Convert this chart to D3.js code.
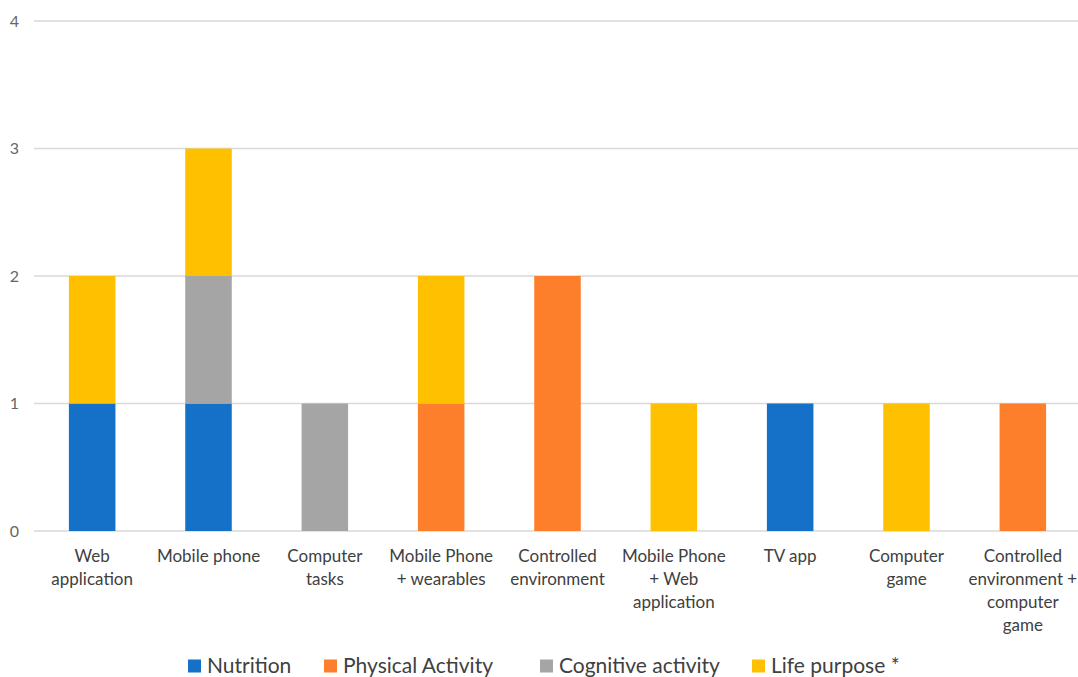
<!DOCTYPE html>
<html>
<head>
<meta charset="utf-8">
<script src="https://cdn.jsdelivr.net/npm/d3@7"></script>
<style>
  body { margin: 0; background: #fff; }
  svg { display: block; font-family: Lato, "Open Sans", sans-serif; }
</style>
</head>
<body>
<svg id="chart" width="1078" height="677"></svg>
<script>
const categories = [
    ["Web", "application"],
    ["Mobile phone"],
    ["Computer", "tasks"],
    ["Mobile Phone", "+ wearables"],
    ["Controlled", "environment"],
    ["Mobile Phone", "+ Web", "application"],
    ["TV app"],
    ["Computer", "game"],
    ["Controlled", "environment +", "computer", "game"]
];
const seriesNames = ["Nutrition", "Physical Activity", "Cognitive activity", "Life purpose *"];
const seriesColors = ["#1570C8", "#FE7F2B", "#A5A5A5", "#FFC000"];
const nutrition = [1, 1, 0, 0, 0, 0, 1, 0, 0];
const physical  = [0, 0, 0, 1, 2, 0, 0, 0, 1];
const cognitive = [0, 1, 1, 0, 0, 0, 0, 0, 0];
const lifePurpose = [1, 1, 0, 1, 0, 1, 0, 1, 0];
const yTicks = [0, 1, 2, 3, 4];

const keys = ["n", "p", "c", "l"];
const rows = categories.map((c, i) => ({
    idx: i, n: nutrition[i], p: physical[i], c: cognitive[i], l: lifePurpose[i]
}));

const svg = d3.select("#chart");
const x = d3.scaleBand().domain(d3.range(categories.length)).range([34, 1081]).paddingInner(0.6).paddingOuter(0.3);
const y = d3.scaleLinear().domain([0, 4]).range([531, 21]);
const color = d3.scaleOrdinal().domain(keys).range(seriesColors);

// gridlines
svg.append("g").selectAll("line").data(yTicks).join("line")
    .attr("x1", 34).attr("x2", 1078)
    .attr("y1", d => y(d)).attr("y2", d => y(d))
    .attr("stroke", "#d9d9d9").attr("stroke-width", 1.3);

// y tick labels
svg.append("g").selectAll("text").data(yTicks).join("text")
    .attr("x", 19).attr("y", d => y(d)).attr("dy", "0.35em")
    .attr("text-anchor", "end")
    .attr("font-size", 16).attr("fill", "#666")
    .text(d => d);

const stacked = d3.stack().keys(keys)(rows);
svg.append("g").selectAll("g").data(stacked).join("g")
    .attr("fill", d => color(d.key))
    .selectAll("rect").data(d => d.filter(s => s[1] > s[0])).join("rect")
    .attr("x", d => x(d.data.idx))
    .attr("width", x.bandwidth())
    .attr("y", d => y(d[1]))
    .attr("height", d => y(d[0]) - y(d[1]));

// category labels
const lab = svg.append("g").selectAll("text").data(categories).join("text")
    .attr("text-anchor", "middle")
    .attr("font-size", 17).attr("fill", "#404040")
    .attr("transform", (d, i) => `translate(${x(i) + x.bandwidth() / 2},562)`);
lab.selectAll("tspan").data(d => d).join("tspan")
    .attr("x", 0).attr("y", (d, i) => i * 23)
    .text(d => d);

// legend
const legendX = [188, 324, 540, 752];
const lg = svg.append("g").selectAll("g").data(seriesNames).join("g")
    .attr("transform", (d, i) => `translate(${legendX[i]},666)`);
lg.append("rect").attr("x", 0).attr("y", -6.5).attr("width", 13).attr("height", 13)
    .attr("fill", (d, i) => seriesColors[i]);
lg.append("text").attr("x", 19).attr("dy", "0.35em")
    .attr("font-size", 21).attr("fill", "#404040")
    .text(d => d);
</script>
</body>
</html>
